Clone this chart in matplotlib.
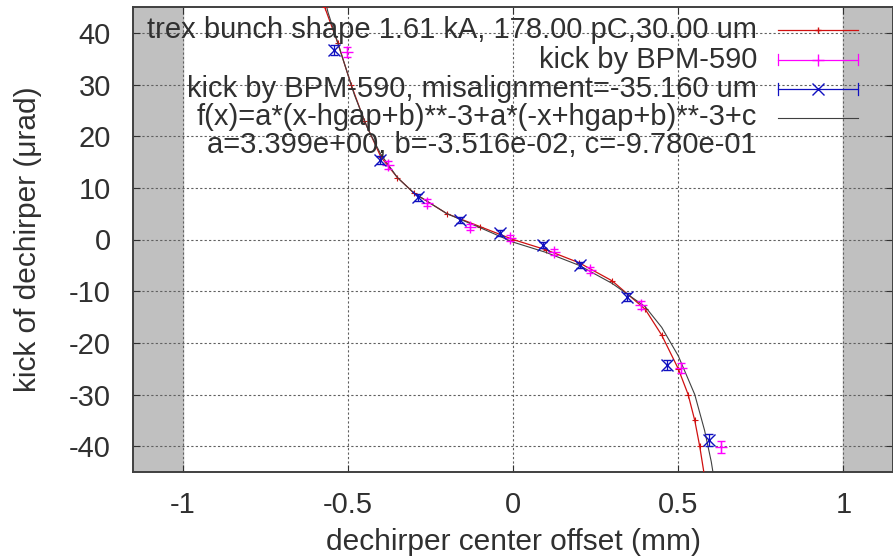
import matplotlib
matplotlib.use("Agg")
import matplotlib.pyplot as plt

plt.rcParams['font.family'] = ['Liberation Sans', 'DejaVu Sans']
plt.rcParams['axes.unicode_minus'] = False

# dechirper jaw positions (mm) and plot range
jaw_edges = [-1.0, 1.0]
x_range = [-1.15, 1.15]
y_range = [-45, 45]

# trex simulation of the bunch kick
trex_x = [-0.60, -0.57, -0.53, -0.49, -0.45, -0.40, -0.35, -0.30, -0.20, -0.10, 0.0,
          0.10, 0.20, 0.30, 0.40, 0.45, 0.50, 0.53, 0.55, 0.565, 0.58]
trex_y = [52.0, 45.0, 38.0, 30.0, 23.0, 16.0, 12.0, 9.0, 5.0, 2.5, 0.0,
          -2.0, -4.5, -8.0, -13.5, -18.5, -25.0, -30.0, -35.0, -40.0, -46.0]

# measured kick from BPM-590
bpm_x = [-0.501, -0.377, -0.259, -0.129, -0.008, 0.123, 0.234, 0.386, 0.507, 0.628]
bpm_y = [36.3, 14.4, 7.1, 2.4, 0.3, -2.4, -5.9, -12.7, -24.9, -40.2]
bpm_err = [1.0, 0.8, 0.7, 0.6, 0.6, 0.6, 0.6, 0.8, 1.0, 1.2]

# same measurement with the misalignment correction
mis_x = [-0.543, -0.401, -0.289, -0.159, -0.038, 0.092, 0.204, 0.346, 0.467, 0.592]
mis_y = [36.7, 15.4, 8.2, 3.8, 1.3, -1.1, -4.9, -11.1, -24.3, -38.8]
mis_err = [1.0, 0.8, 0.7, 0.6, 0.6, 0.6, 0.6, 0.8, 1.0, 1.2]

# fitted curve
fit_x = [-0.59, -0.56, -0.52, -0.48, -0.44, -0.40, -0.35, -0.30, -0.20, -0.10, 0.0,
         0.10, 0.20, 0.30, 0.40, 0.45, 0.50, 0.55, 0.58, 0.60, 0.61]
fit_y = [52.0, 44.0, 36.0, 28.0, 21.5, 16.5, 12.0, 9.0, 5.0, 2.3, -0.5,
         -2.5, -5.0, -8.5, -13.0, -17.0, -22.5, -30.0, -37.0, -43.0, -47.0]

labels = ["trex bunch shape 1.61 kA, 178.00 pC,30.00 um",
          "kick by BPM-590",
          "kick by BPM-590, misalignment=-35.160 um",
          "f(x)=a*(x-hgap+b)**-3+a*(-x+hgap+b)**-3+c\na=3.399e+00, b=-3.516e-02, c=-9.780e-01"]

red = "#d01010"
mag = "#ff00ff"
blue = "#1010c0"
fitc = "#404040"
txtc = "#303030"
fs = 21

fig = plt.figure(figsize=(8.93, 5.57), dpi=100)
ax = fig.add_axes([133 / 893, 85 / 557, 760 / 893, 465 / 557])

ax.axvspan(x_range[0], jaw_edges[0], color="#c0c0c0", zorder=0)
ax.axvspan(jaw_edges[1], x_range[1], color="#c0c0c0", zorder=0)

ax.plot(trex_x, trex_y, color=red, lw=0.9, marker="+", ms=5, mew=0.8, zorder=3)
ax.errorbar(bpm_x, bpm_y, yerr=bpm_err, color=mag, lw=0, elinewidth=0.9,
            marker="+", ms=9, mew=1.0, capsize=3, zorder=4)
ax.errorbar(mis_x, mis_y, yerr=mis_err, color=blue, lw=0, elinewidth=0.9,
            marker="x", ms=8, mew=1.0, capsize=3, zorder=5)
ax.plot(fit_x, fit_y, color=fitc, lw=0.8, zorder=3)

ax.set_xlim(x_range)
ax.set_ylim(y_range)
ax.set_xticks([-1, -0.5, 0, 0.5, 1])
ax.set_xticklabels(["-1", "-0.5", "0", "0.5", "1"])
ax.set_yticks(range(-40, 41, 10))
ax.grid(True, color="#606060", linestyle=(0, (2, 2)), lw=0.8)
ax.tick_params(direction="in", labelsize=fs, colors=txtc, length=5,
               top=True, right=True)
ax.tick_params(axis="x", pad=14)
ax.tick_params(axis="y", pad=16)
for s in ax.spines.values():
    s.set_linewidth(1.4)
    s.set_color("#404040")
ax.set_xlabel("dechirper center offset (mm)", fontsize=21.5, color=txtc)
ax.set_ylabel("kick of dechirper (\u03bcrad)", fontsize=21.5, color=txtc)
ax.xaxis.set_label_coords(0.5, -0.12)
ax.yaxis.set_label_coords(-0.12, 0.5)

# key in the upper right corner, text to the left of the samples
tr = ax.transAxes
def px2ax(px, py):
    return (px - 133) / 760, (557 - py - 85) / 465

rows = [30, 59.5, 89, 118]
for i, (lab, py) in enumerate(zip(labels, rows)):
    tx, ty = px2ax(757, py)
    if i < 3:
        ax.text(tx, ty, lab, transform=tr, ha="right", va="center", fontsize=fs,
                color=txtc, zorder=6)
    else:
        ax.text(tx, px2ax(0, py - 15)[1], lab, transform=tr, ha="right", va="top",
                fontsize=fs, color=txtc, linespacing=1.0, multialignment="right", zorder=6)
    x0, _ = px2ax(778, py)
    x1, _ = px2ax(858, py)
    xm = (x0 + x1) / 2
    if i == 0:
        ax.plot([x0, x1], [ty, ty], color=red, lw=0.9, transform=tr, zorder=6)
        ax.plot([xm], [ty], color=red, marker="+", ms=5, transform=tr, zorder=6)
    elif i in (1, 2):
        c = mag if i == 1 else blue
        ax.plot([x0, x1], [ty, ty], color=c, lw=0.9, transform=tr, zorder=6)
        ax.plot([x0, x0], [ty - 0.012, ty + 0.012], color=c, lw=0.9, transform=tr, zorder=6)
        ax.plot([x1, x1], [ty - 0.012, ty + 0.012], color=c, lw=0.9, transform=tr, zorder=6)
        ax.plot([xm], [ty], color=c, marker="+" if i == 1 else "x", ms=9 if i == 1 else 8,
                mew=1.0, transform=tr, zorder=6)
    else:
        ax.plot([x0, x1], [ty, ty], color=fitc, lw=0.8, transform=tr, zorder=6)

fig.savefig("out.png", dpi=100)
